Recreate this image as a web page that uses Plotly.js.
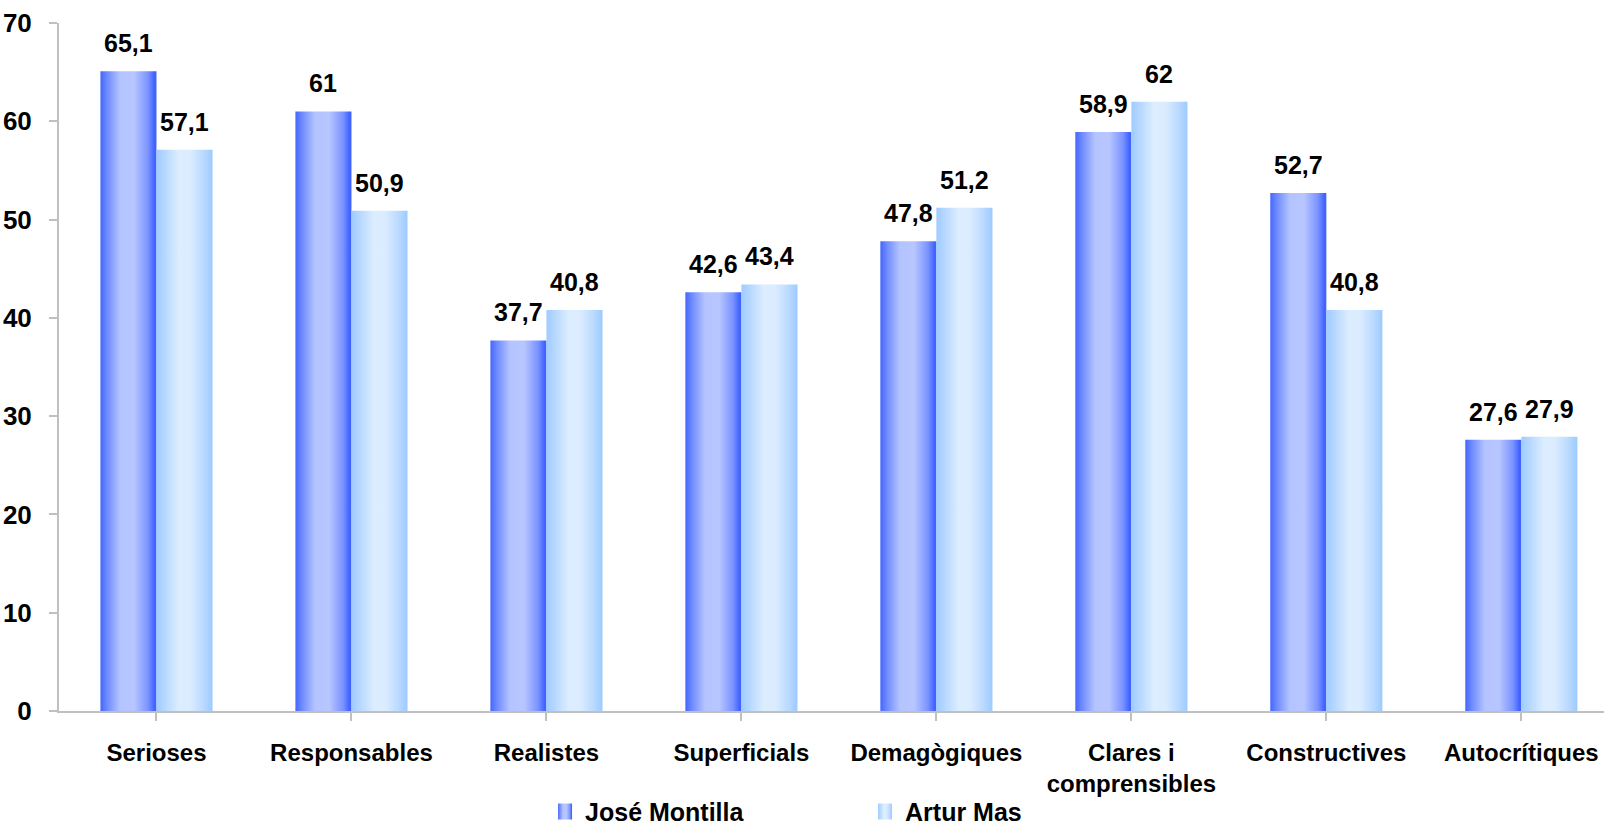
<!DOCTYPE html>
<html>
<head>
<meta charset="utf-8">
<script src="https://cdn.plot.ly/plotly-3.0.1.min.js"></script>
<style>
html,body{margin:0;padding:0;background:#fff;}
#chart{width:1604px;height:825px;}
</style>
</head>
<body>
<div id="chart"></div>
<script>
const categories = ["Serioses", "Responsables", "Realistes", "Superficials", "Demagògiques", "Clares i<br>comprensibles", "Constructives", "Autocrítiques"];
const montilla = [65.1, 61, 37.7, 42.6, 47.8, 58.9, 52.7, 27.6];
const mas = [57.1, 50.9, 40.8, 43.4, 51.2, 62, 40.8, 27.9];
const seriesNames = ["José Montilla", "Artur Mas"];
const yTicks = [0, 10, 20, 30, 40, 50, 60, 70];

const FONT = '"Liberation Sans", Arial, sans-serif';
const idx = categories.map((c, i) => i);
const fmt = v => String(v).replace('.', ',');

const traces = [
  {type: 'bar', name: seriesNames[0], x: idx, y: montilla, marker: {color: '#4f72ff', line: {width: 0}}, hoverinfo: 'none'},
  {type: 'bar', name: seriesNames[1], x: idx, y: mas, marker: {color: '#b4d8ff', line: {width: 0}}, hoverinfo: 'none'}
];

const off = 0.1435;
const labelFont = {family: FONT, size: 25, color: '#000', weight: 'bold'};
const annotations = [];
montilla.forEach((v, i) => annotations.push({x: i - off, y: v, xref: 'x', yref: 'y', text: fmt(v), showarrow: false, yshift: 28, yanchor: 'middle', font: labelFont}));
mas.forEach((v, i) => annotations.push({x: i + off, y: v, xref: 'x', yref: 'y', text: fmt(v), showarrow: false, yshift: 28, yanchor: 'middle', font: labelFont}));

const layout = {
  width: 1604, height: 825,
  margin: {l: 59, r: 0, t: 23, b: 114},
  paper_bgcolor: '#fff', plot_bgcolor: '#fff',
  barmode: 'group', bargap: 0.425, bargroupgap: 0,
  font: {family: FONT, size: 24, color: '#000', weight: 'bold'},
  xaxis: {
    range: [-0.5, 7.424], tickmode: 'array', tickvals: idx, ticktext: categories,
    tickson: 'boundaries', ticks: 'outside', ticklen: 8, tickwidth: 2, tickcolor: '#c0c0c0',
    showline: true, linecolor: '#c0c0c0', linewidth: 2, showgrid: false, zeroline: false,
    ticklabelstandoff: 11,
    tickfont: {family: FONT, size: 24, color: '#000', weight: 'bold'}
  },
  yaxis: {
    range: [0, 70], tickmode: 'array', tickvals: yTicks, ticktext: yTicks.map(String),
    ticks: 'outside', ticklen: 8, tickwidth: 2, tickcolor: '#c0c0c0',
    showline: true, linecolor: '#c0c0c0', linewidth: 2, showgrid: false, zeroline: false,
    ticklabelstandoff: 12,
    tickfont: {family: FONT, size: 26, color: '#000', weight: 'bold'}
  },
  showlegend: true,
  legend: {
    orientation: 'h', x: 0.3146, xanchor: 'left', yref: 'container', y: 0.016, yanchor: 'middle',
    entrywidth: 275, entrywidthmode: 'pixels',
    font: {family: FONT, size: 25, color: '#000', weight: 'bold'},
    bgcolor: 'rgba(0,0,0,0)'
  },
  annotations: annotations
};

function applyGradients(gd) {
  const svg = gd.querySelector('svg.main-svg');
  const ns = 'http://www.w3.org/2000/svg';
  let defs = svg.querySelector('defs');
  if (!defs) { defs = document.createElementNS(ns, 'defs'); svg.insertBefore(defs, svg.firstChild); }
  function mk(id, stops) {
    if (svg.querySelector('#' + id)) return;
    const g = document.createElementNS(ns, 'linearGradient');
    g.setAttribute('id', id); g.setAttribute('x1', '0'); g.setAttribute('y1', '0'); g.setAttribute('x2', '1'); g.setAttribute('y2', '0');
    stops.forEach(s => { const st = document.createElementNS(ns, 'stop'); st.setAttribute('offset', s[0]); st.setAttribute('stop-color', s[1]); g.appendChild(st); });
    defs.appendChild(g);
  }
  mk('gradJ', [['0', '#4466ff'], ['0.12', '#6f8bff'], ['0.35', '#b4c4ff'], ['0.6', '#b8c6ff'], ['0.85', '#7a93ff'], ['0.97', '#3f62ff'], ['1', '#4466ff']]);
  mk('gradA', [['0', '#9ecbff'], ['0.15', '#b6d8ff'], ['0.4', '#dcedff'], ['0.6', '#dcecff'], ['0.85', '#b8d9ff'], ['1', '#9ccaff']]);
  const ids = ['gradJ', 'gradA'];
  gd.querySelectorAll('.barlayer .trace').forEach((t, i) => {
    t.querySelectorAll('path').forEach(p => { p.style.fill = 'url(#' + ids[i] + ')'; });
  });
  gd.querySelectorAll('.legend .traces').forEach((t, i) => {
    t.querySelectorAll('.legendpoints path').forEach(p => {
      p.setAttribute('d', 'M7,8H-7V-8H7Z');
      p.style.fill = 'url(#' + ids[i] + ')'; p.style.stroke = 'none';
    });
  });
}

Plotly.newPlot('chart', traces, layout, {displayModeBar: false, staticPlot: true}).then(applyGradients);
</script>
</body>
</html>
